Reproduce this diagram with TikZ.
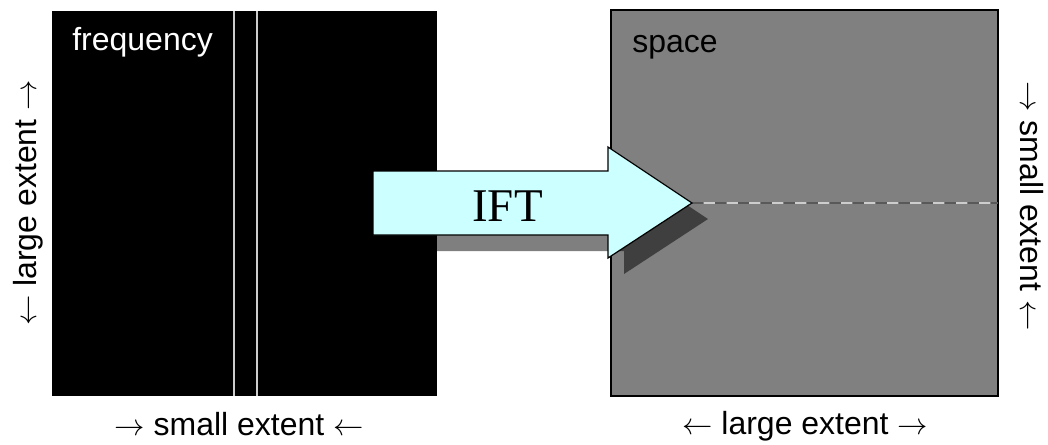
\documentclass[tikz,border=0pt]{standalone}
\usepackage{fontspec}
\setmainfont{Liberation Sans}
\newfontfamily\iftfont{Liberation Serif}
\usepackage{tikz}
\usetikzlibrary{shapes,arrows,positioning,calc}
\definecolor{iftcyan}{RGB}{204,255,255}
\definecolor{spacegray}{RGB}{128,128,128}
\definecolor{stripegray}{RGB}{205,205,205}
\newcommand{\extfont}{\fontsize{18.2pt}{22pt}\selectfont}
\newcommand{\iftarrow}{(373,171) -- (608,171) -- (608,147) -- (692,203) -- (608,258) -- (608,235) -- (373,235) -- cycle}

\begin{document}
\begin{tikzpicture}[x=0.02cm, y=-0.02cm,
    lbl/.style={font=\extfont, inner sep=0pt, anchor=base},
    panel/.style={rectangle, inner sep=0pt, outer sep=0pt}]
    \useasboundingbox (0,0) rectangle (1048,444);
    % Frequency and space panels
    \node[panel, fill=black, minimum width=7.7cm, minimum height=7.7cm] (freq) at (244.5,203.5) {};
    \node[panel, draw=black, line width=0.7pt, fill=spacegray, minimum width=7.74cm, minimum height=7.72cm] (space) at (804.5,203) {};
    \node[lbl, anchor=base west, text=white] (freqlbl) at (72,50) {frequency};
    \node[lbl, anchor=base west] (spacelbl) at (632,52) {space};

    % Two thin stripes in frequency
    \draw[stripegray, line width=1.1pt] (234,11) -- (234,396);
    \draw[stripegray, line width=1.1pt] (257,11) -- (257,396);

    % Thin line in space
    \coordinate (tip) at (692,203);
    \draw[black!65, line width=0.85pt, dash pattern=on 0.22cm off 0.24cm] (tip) -- (space.east |- tip);
    \draw[stripegray, line width=0.85pt, dash pattern=on 0.22cm off 0.24cm, dash phase=0.23cm] (tip) -- (space.east |- tip);

    % IFT arrow with its shadow
    \begin{scope}[shift={(16,16)}]
        \fill[black, opacity=0.5] \iftarrow;
    \end{scope}
    \filldraw[fill=iftcyan, draw=black, line width=0.7pt] \iftarrow;
    \node[inner sep=0pt, anchor=base, font=\iftfont\fontsize{26.7pt}{30pt}\selectfont] (ift) at (507.5,221) {IFT};

    % Extent labels
    \node[lbl] (freqx) at (239,435) {$\rightarrow$ small extent $\leftarrow$};
    \node[lbl, rotate=90] (freqy) at (36,203) {$\leftarrow$ large extent $\rightarrow$};
    \node[lbl] (spacex) at (805,434) {$\leftarrow$ large extent $\rightarrow$};
    \node[lbl, rotate=-90] (spacey) at (1020,206) {$\rightarrow$ small extent $\leftarrow$};
\end{tikzpicture}
\end{document}
